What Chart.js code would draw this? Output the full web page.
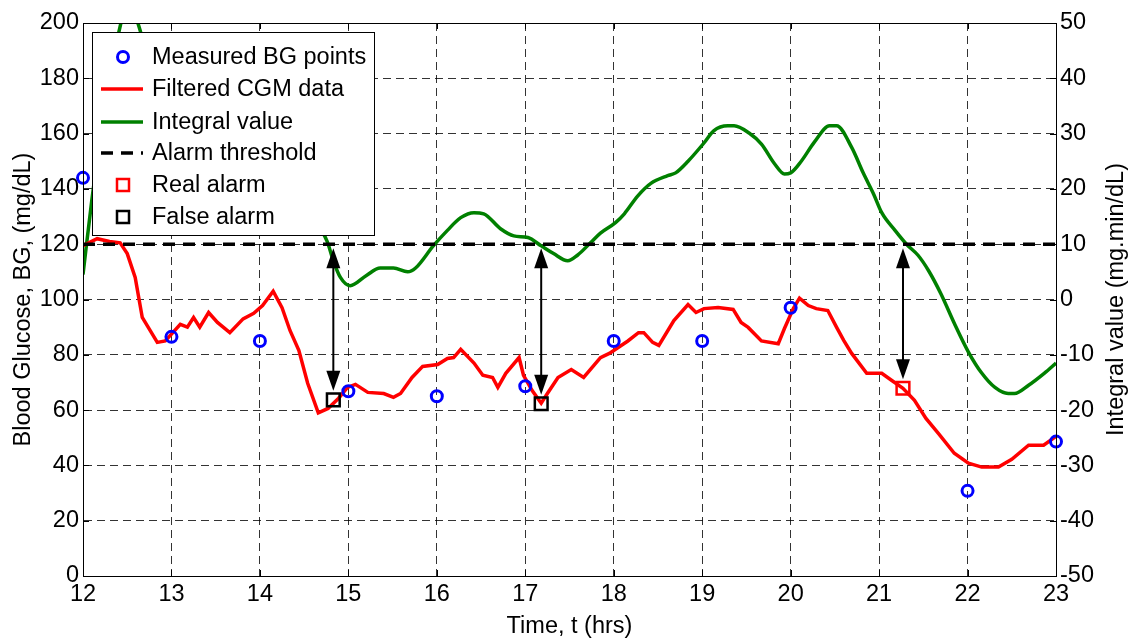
<!DOCTYPE html>
<html>
<head>
<meta charset="utf-8">
<title>Blood glucose alarm</title>
<script src="https://cdn.jsdelivr.net/npm/chart.js@4/dist/chart.umd.min.js"></script>
<style>
  body { margin: 0; background: #fff; }
  #wrap { width: 1136px; height: 642px; }
</style>
</head>
<body>
<div id="wrap"><canvas id="bgChart" width="1136" height="642"></canvas></div>
<script>
// Measured BG points (hrs, mg/dL)
const bgTime  = [12, 13, 14, 15, 16, 17, 18, 19, 20, 22, 23];
const bgValue = [144, 86.5, 85, 66.8, 65, 68.6, 85, 85, 97, 30.8, 48.6];

// Filtered CGM data (hrs, mg/dL)
const cgmTime = [12.0, 12.16, 12.3, 12.42, 12.5, 12.59, 12.67, 12.84, 12.93, 13.1, 13.18, 13.25, 13.32, 13.42,
  13.52, 13.66, 13.81, 13.93, 14.03, 14.15, 14.25, 14.34, 14.44, 14.54, 14.66, 14.77, 14.89, 14.99, 15.08,
  15.22, 15.4, 15.51, 15.59, 15.72, 15.84, 16.01, 16.12, 16.19, 16.27, 16.42, 16.52, 16.63, 16.69, 16.78,
  16.93, 16.98, 17.08, 17.18, 17.25, 17.37, 17.52, 17.66, 17.85, 17.95, 18.16, 18.28, 18.34, 18.44, 18.51,
  18.68, 18.84, 18.93, 19.02, 19.18, 19.35, 19.44, 19.52, 19.67, 19.86, 19.93, 20.03, 20.1, 20.2, 20.29,
  20.42, 20.52, 20.6, 20.69, 20.86, 21.03, 21.14, 21.27, 21.4, 21.53, 21.67, 21.85, 22.01, 22.16, 22.35,
  22.5, 22.69, 22.86, 23.0];
const cgmValue = [119.5, 122, 121, 120.5, 116.6, 108, 93.5, 84.5, 85, 91, 90, 93.5, 90, 95.3,
  91.7, 88, 93, 95, 97.8, 103, 97, 88.8, 81.6, 69.7, 59, 60.6, 64.3, 68.2, 69.3,
  66.4, 66, 64.6, 66, 71.8, 75.8, 76.5, 78.7, 79, 82, 77, 72.6, 71.8, 68.2, 73.3,
  79, 72.6, 67, 62.5, 66, 71.8, 74.7, 71.8, 79, 80.5, 85, 88, 88, 84.5, 83.4,
  92.4, 98.2, 95.3, 96.7, 97.1, 96.4, 91.7, 89.9, 85, 84, 89.5, 96.7, 100.5, 97.8, 96.7,
  96, 89.9, 85.2, 80.5, 73.3, 73.3, 70.8, 67.9, 63.5, 57, 51.6, 44.4, 40.8, 39.4, 39.4,
  42.2, 47.3, 47.3, 50.5];

// Integral value (hrs, mg.min/dL) - right axis
const intTime = [12.0, 12.1, 12.25, 12.4, 12.52, 12.62, 12.75, 13.0, 13.5, 14.0, 14.4, 14.6, 14.76, 14.83,
  14.91, 15.02, 15.2, 15.36, 15.51, 15.67, 15.76, 15.96, 16.12, 16.27, 16.42, 16.53, 16.72, 16.87, 17.03,
  17.18, 17.32, 17.48, 17.59, 17.74, 17.85, 18.02, 18.12, 18.27, 18.42, 18.61, 18.7, 18.84, 19.02, 19.13,
  19.29, 19.36, 19.53, 19.67, 19.82, 19.93, 20.0, 20.12, 20.27, 20.44, 20.52, 20.69, 20.82, 20.94, 21.03,
  21.18, 21.31, 21.44, 21.56, 21.7, 21.85, 22.01, 22.16, 22.31, 22.46, 22.53, 22.69, 22.87, 23.0];
const intValue = [4.5, 18, 35, 48, 54, 50, 43, 36, 30, 25, 19, 15, 10.5, 7,
  4, 2.5, 4.3, 5.7, 5.7, 5, 5.7, 9.7, 12.5, 14.8, 15.7, 15.5, 12.8, 11.5, 11.2,
  9.7, 8.3, 7, 8, 10.3, 12, 13.9, 15.5, 18.7, 21, 22.4, 22.9, 25, 28.3, 30.5,
  31.4, 31.4, 30.1, 28.1, 24.5, 22.7, 22.9, 25, 28.5, 31.4, 31.4, 27.5, 22.9, 19, 15.7,
  12.5, 10, 8, 5.2, 1, -4.3, -9.5, -13.3, -15.9, -17, -17, -15.5, -13.3, -11.5];

// Alarm threshold (mg/dL) and alarms
const thresholdBG = 120;
const realAlarmTime = [21.27];
const realAlarmValue = [67.9];
const falseAlarmTime = [14.83, 17.18];
const falseAlarmValue = [63.7, 62.3];

const xTicks = [12, 13, 14, 15, 16, 17, 18, 19, 20, 21, 22, 23];
const legendLabels = ['Measured BG points', 'Filtered CGM data', 'Integral value', 'Alarm threshold', 'Real alarm', 'False alarm'];

const FONT = '"Liberation Sans", Arial, Helvetica, sans-serif';
Chart.defaults.font.family = FONT;
Chart.defaults.font.size = 23;
Chart.defaults.color = '#000';

const toXY = (xs, ys) => xs.map((x, i) => ({ x: x, y: ys[i] }));

// arrows, frame, inward ticks, legend and axis titles
const extrasPlugin = {
  id: 'extras',
  afterDatasetsDraw(chart) {
    const ctx = chart.ctx;
    const a = chart.chartArea;
    const sx = chart.scales.x, sy = chart.scales.y, sy2 = chart.scales.y2;

    // double-headed arrows from threshold down to each alarm
    const alarmsT = falseAlarmTime.concat(realAlarmTime);
    const alarmsV = falseAlarmValue.concat(realAlarmValue);
    ctx.save();
    ctx.strokeStyle = '#000';
    ctx.fillStyle = '#000';
    ctx.lineWidth = 2;
    alarmsT.forEach((t, i) => {
      const x = sx.getPixelForValue(t);
      const yTop = sy.getPixelForValue(thresholdBG) + 4;
      const yBot = sy.getPixelForValue(alarmsV[i]) - 9;
      const hl = 20, hw = 7;
      ctx.beginPath();
      ctx.moveTo(x, yTop + hl - 2);
      ctx.lineTo(x, yBot - hl + 2);
      ctx.stroke();
      ctx.beginPath();
      ctx.moveTo(x, yTop); ctx.lineTo(x - hw, yTop + hl); ctx.lineTo(x + hw, yTop + hl);
      ctx.closePath(); ctx.fill();
      ctx.beginPath();
      ctx.moveTo(x, yBot); ctx.lineTo(x - hw, yBot - hl); ctx.lineTo(x + hw, yBot - hl);
      ctx.closePath(); ctx.fill();
    });

    // frame
    ctx.lineWidth = 1;
    ctx.strokeRect(a.left + 0.5, a.top + 0.5, a.right - a.left, a.bottom - a.top);

    // inward ticks
    const tl = 6;
    ctx.beginPath();
    sx.ticks.forEach(t => {
      const x = Math.round(sx.getPixelForValue(t.value)) + 0.5;
      ctx.moveTo(x, a.bottom); ctx.lineTo(x, a.bottom - tl);
      ctx.moveTo(x, a.top); ctx.lineTo(x, a.top + tl);
    });
    sy.ticks.forEach(t => {
      const y = Math.round(sy.getPixelForValue(t.value)) + 0.5;
      ctx.moveTo(a.left, y); ctx.lineTo(a.left + tl, y);
    });
    sy2.ticks.forEach(t => {
      const y = Math.round(sy2.getPixelForValue(t.value)) + 0.5;
      ctx.moveTo(a.right, y); ctx.lineTo(a.right - tl, y);
    });
    ctx.stroke();

    // legend box
    const lx = 92, ly = 32, lw = 282, lh = 203;
    ctx.fillStyle = '#fff';
    ctx.fillRect(lx, ly, lw, lh);
    ctx.strokeStyle = '#000';
    ctx.lineWidth = 1;
    ctx.strokeRect(lx + 0.5, ly + 0.5, lw, lh);
    const rowY = [57, 89, 122, 153, 185, 217];
    const symX = 123;
    ctx.font = '23.5px ' + FONT;
    ctx.textBaseline = 'middle';
    ctx.textAlign = 'left';
    legendLabels.forEach((lab, i) => {
      const y = rowY[i];
      ctx.save();
      if (i === 0) {
        ctx.strokeStyle = '#0000ff'; ctx.lineWidth = 3;
        ctx.beginPath(); ctx.arc(symX, y, 5.5, 0, Math.PI * 2); ctx.stroke();
      } else if (i === 1 || i === 2) {
        ctx.strokeStyle = i === 1 ? '#ff0000' : '#008000'; ctx.lineWidth = 3.5;
        ctx.beginPath(); ctx.moveTo(101, y); ctx.lineTo(143, y); ctx.stroke();
      } else if (i === 3) {
        ctx.strokeStyle = '#000'; ctx.lineWidth = 3.5;
        ctx.setLineDash([12, 8]);
        ctx.beginPath(); ctx.moveTo(101, y); ctx.lineTo(143, y); ctx.stroke();
      } else {
        ctx.strokeStyle = i === 4 ? '#ff0000' : '#000'; ctx.lineWidth = 2.5;
        ctx.strokeRect(symX - 6, y - 6, 12, 12);
      }
      ctx.restore();
      ctx.fillStyle = '#000';
      ctx.fillText(lab, 152, y + 1);
    });

    // axis titles
    ctx.font = '23.5px ' + FONT;
    ctx.fillStyle = '#000';
    ctx.textAlign = 'center';
    ctx.textBaseline = 'middle';
    ctx.fillText('Time, t (hrs)', (a.left + a.right) / 2, 627);
    ctx.save();
    ctx.translate(24, (a.top + a.bottom) / 2);
    ctx.rotate(-Math.PI / 2);
    ctx.fillText('Blood Glucose, BG, (mg/dL)', 0, 0);
    ctx.restore();
    ctx.save();
    ctx.translate(1117, (a.top + a.bottom) / 2);
    ctx.rotate(-Math.PI / 2);
    ctx.fillText('Integral value (mg.min/dL)', 0, 0);
    ctx.restore();
    ctx.restore();
  }
};

const ctx = document.getElementById('bgChart').getContext('2d');
new Chart(ctx, {
  type: 'scatter',
  data: {
    datasets: [
      {
        label: legendLabels[0],
        data: toXY(bgTime, bgValue),
        yAxisID: 'y',
        showLine: false,
        clip: false,
        pointStyle: 'circle',
        pointRadius: 5.5,
        pointBorderWidth: 3,
        pointBorderColor: '#0000ff',
        pointBackgroundColor: 'rgba(0,0,0,0)',
        order: 0
      },
      {
        label: legendLabels[4],
        data: toXY(realAlarmTime, realAlarmValue),
        yAxisID: 'y',
        showLine: false,
        clip: false,
        pointStyle: 'rect',
        pointRadius: 9,
        pointBorderWidth: 2.5,
        pointBorderColor: '#ff0000',
        pointBackgroundColor: 'rgba(0,0,0,0)',
        order: 0
      },
      {
        label: legendLabels[5],
        data: toXY(falseAlarmTime, falseAlarmValue),
        yAxisID: 'y',
        showLine: false,
        clip: false,
        pointStyle: 'rect',
        pointRadius: 9,
        pointBorderWidth: 2.5,
        pointBorderColor: '#000',
        pointBackgroundColor: 'rgba(0,0,0,0)',
        order: 0
      },
      {
        label: legendLabels[3],
        data: [{ x: 12, y: thresholdBG }, { x: 23, y: thresholdBG }],
        yAxisID: 'y',
        showLine: true,
        borderColor: '#000',
        borderWidth: 3.5,
        borderDash: [12, 8],
        pointRadius: 0,
        order: 1
      },
      {
        label: legendLabels[1],
        data: toXY(cgmTime, cgmValue),
        yAxisID: 'y',
        showLine: true,
        borderColor: '#ff0000',
        borderWidth: 3.5,
        pointRadius: 0,
        tension: 0,
        order: 2
      },
      {
        label: legendLabels[2],
        data: toXY(intTime, intValue),
        yAxisID: 'y2',
        showLine: true,
        borderColor: '#008000',
        borderWidth: 3.5,
        pointRadius: 0,
        cubicInterpolationMode: 'monotone',
        order: 3
      }
    ]
  },
  options: {
    responsive: false,
    animation: false,
    layout: { padding: { top: 23, left: 0, right: 0, bottom: 0 } },
    plugins: {
      legend: { display: false },
      tooltip: { enabled: false }
    },
    scales: {
      x: {
        type: 'linear',
        min: 12,
        max: 23,
        afterBuildTicks: s => { s.ticks = xTicks.map(v => ({ value: v })); },
        afterFit: s => { s.height = 66; },
        ticks: { padding: 4, font: { size: 23.5 } },
        grid: { color: 'rgba(0,0,0,0.8)', lineWidth: 1, drawTicks: false },
        border: { display: true, color: '#000', dash: [8, 5] }
      },
      y: {
        type: 'linear',
        position: 'left',
        min: 0,
        max: 200,
        afterFit: s => { s.width = 83; },
        ticks: { stepSize: 20, padding: 4, font: { size: 23.5 } },
        grid: { color: 'rgba(0,0,0,0.8)', lineWidth: 1, drawTicks: false },
        border: { display: true, color: '#000', dash: [8, 5] }
      },
      y2: {
        type: 'linear',
        position: 'right',
        min: -50,
        max: 50,
        afterFit: s => { s.width = 80; },
        ticks: { stepSize: 10, padding: 4, font: { size: 23.5 } },
        grid: { drawOnChartArea: false, drawTicks: false },
        border: { display: true, color: '#000' }
      }
    }
  },
  plugins: [extrasPlugin]
});
</script>
</body>
</html>
